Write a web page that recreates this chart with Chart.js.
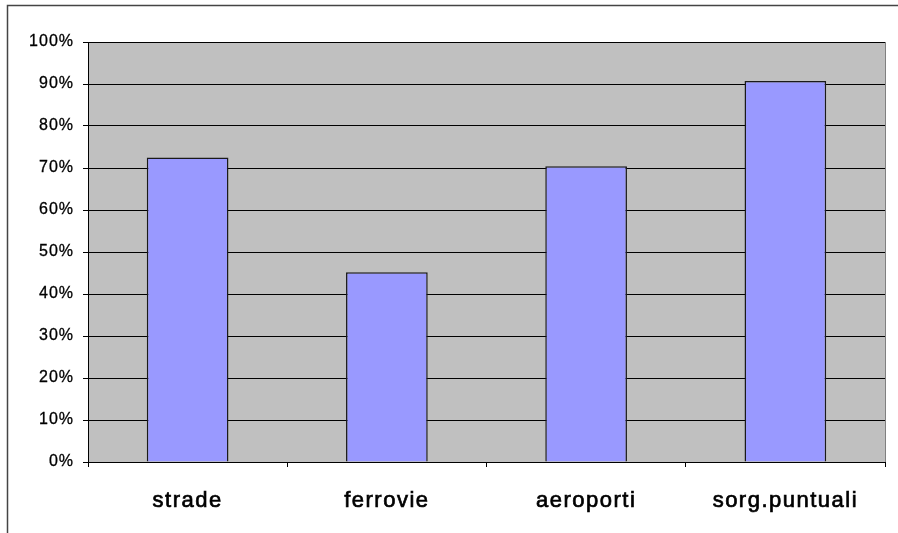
<!DOCTYPE html>
<html>
<head>
<meta charset="utf-8">
<script src="https://cdn.jsdelivr.net/npm/chart.js@4/dist/chart.umd.min.js"></script>
<style>
  html, body { margin: 0; padding: 0; background: #fff; }
  #wrap { width: 898px; height: 533px; position: relative; }
</style>
</head>
<body>
<div id="wrap"><canvas id="myChart"></canvas></div>
<script>
const categorie = ['strade', 'ferrovie', 'aeroporti', 'sorg.puntuali'];
const percentuali = [72.5, 45.2, 70.4, 90.7];
const tickY = [0, 10, 20, 30, 40, 50, 60, 70, 80, 90, 100];

// spaziatura lettere come nel grafico originale
const spaziatura = { x: '1.5px', y: '1px' };

// cornice esterna + sfondo grigio dell'area del grafico
const sfondo = {
    id: 'sfondo',
    afterUpdate(chart) {
        Object.values(chart.scales).forEach(scale => {
            if (scale._spaziato) return;
            const orig = scale.drawLabels;
            scale.drawLabels = function (area) {
                const c = this.ctx;
                c.save();
                c.letterSpacing = spaziatura[this.id] || '0px';
                orig.call(this, area);
                c.restore();
            };
            scale._spaziato = true;
        });
    },
    beforeDraw(chart) {
        const c = chart.ctx;
        const a = chart.chartArea;
        c.save();
        c.fillStyle = '#C0C0C0';
        c.fillRect(a.left, a.top, a.right - a.left, a.bottom - a.top);
        c.strokeStyle = '#808080';
        c.lineWidth = 1;
        c.strokeRect(a.left + 0.5, a.top + 0.5, a.right - a.left, a.bottom - a.top);
        c.strokeStyle = '#444';
        c.lineWidth = 1.5;
        c.beginPath();
        c.moveTo(7.5, 533);
        c.lineTo(7.5, 5.5);
        c.lineTo(898, 5.5);
        c.stroke();
        c.restore();
    }
};

const ctx = document.getElementById('myChart');

new Chart(ctx, {
    type: 'bar',
    data: {
        labels: categorie,
        datasets: [{
            data: percentuali,
            backgroundColor: '#9999FF',
            borderColor: '#1a1a1a',
            borderWidth: 1.5,
            barPercentage: 0.41,
            categoryPercentage: 1
        }]
    },
    options: {
        responsive: true,
        maintainAspectRatio: false,
        animation: false,
        layout: {
            padding: { top: 42, right: 13, left: 0, bottom: 0 }
        },
        plugins: {
            legend: { display: false },
            tooltip: { enabled: false }
        },
        scales: {
            x: {
                afterFit: (scale) => { scale.height = 71; },
                grid: {
                    offset: true,
                    drawOnChartArea: false,
                    color: '#000',
                    tickLength: 5
                },
                border: { color: '#000', width: 1 },
                ticks: {
                    color: '#000',
                    padding: 21,
                    textStrokeColor: '#000',
                    textStrokeWidth: 0.7,
                    font: { family: 'Liberation Sans', size: 22 }
                }
            },
            y: {
                min: 0,
                max: 100,
                afterFit: (scale) => { scale.width = 88; },
                afterBuildTicks: (scale) => {
                    scale.ticks = tickY.map(v => ({ value: v }));
                },
                grid: {
                    color: '#000',
                    tickLength: 5
                },
                border: { color: '#000', width: 1 },
                ticks: {
                    color: '#000',
                    padding: 9,
                    textStrokeColor: '#000',
                    textStrokeWidth: 0.3,
                    font: { family: 'Liberation Sans', size: 16 },
                    callback: (v) => v + '%'
                }
            }
        }
    },
    plugins: [sfondo]
});
</script>
</body>
</html>
